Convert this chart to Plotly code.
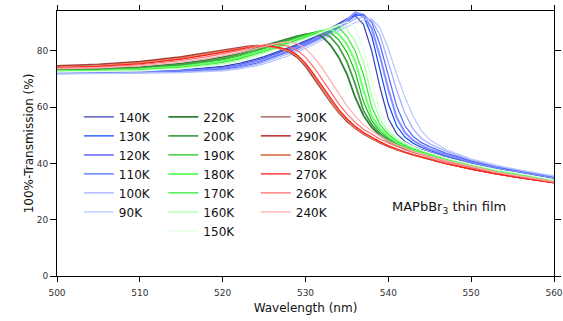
import plotly.graph_objects as go

# ---------------- data ----------------
wavelength = [500, 505, 510, 515, 518, 520, 522, 523, 524, 525, 526, 527, 528, 529, 530,
              531, 532, 533, 534, 535, 536, 537, 538, 539, 540, 541, 542, 543, 544, 545,
              547, 550, 553, 556, 560]

t140 = [72.3, 72.4, 72.7, 73.3, 73.9, 74.5, 75.6,
        76.3, 77.1, 78.0, 79.0, 80.1, 81.2, 82.4, 83.6, 84.9, 86.4,
        88.0, 89.8, 91.4, 92.5, 89.5, 80.0, 67.0, 56.0, 50.6, 47.8,
        46.1, 44.9, 44.0, 42.3, 40.0, 38.1, 36.6, 34.6]
t130 = [72.2, 72.3, 72.5, 73.1, 73.6, 74.1, 75.1,
        75.8, 76.6, 77.5, 78.5, 79.6, 80.7, 81.9, 83.1, 84.4, 85.9,
        87.5, 89.2, 91.1, 93.0, 92.4, 85.3, 73.2, 61.2, 53.4, 49.4,
        47.2, 45.7, 44.6, 42.7, 40.3, 38.3, 36.8, 34.8]
t120 = [72.1, 72.2, 72.4, 72.9, 73.4, 73.8, 74.7,
        75.4, 76.1, 77.0, 78.0, 79.1, 80.2, 81.4, 82.6, 84.0, 85.5,
        87.1, 88.9, 91.0, 93.7, 92.8, 88.0, 78.0, 66.4, 56.4, 51.0,
        48.2, 46.4, 45.1, 43.0, 40.6, 38.6, 37.0, 35.0]
t110 = [72.0, 72.1, 72.3, 72.7, 73.1, 73.5, 74.3,
        74.9, 75.6, 76.5, 77.5, 78.6, 79.7, 80.9, 82.1, 83.5, 85.0,
        86.6, 88.4, 90.4, 92.4, 93.0, 90.2, 82.2, 71.0, 60.4, 53.4,
        49.6, 47.4, 46.0, 43.6, 40.9, 38.8, 37.2, 35.2]
t100 = [71.9, 72.0, 72.2, 72.5, 72.9, 73.2, 73.9,
        74.5, 75.2, 76.0, 77.0, 78.0, 79.1, 80.3, 81.6, 83.0, 84.5,
        86.1, 87.9, 89.8, 91.4, 92.1, 91.0, 85.6, 76.2, 66.2, 57.8,
        52.2, 48.9, 47.0, 44.3, 41.3, 39.1, 37.4, 35.4]
t90 = [71.8, 71.9, 72.0, 72.3, 72.6, 72.9, 73.6,
       74.1, 74.7, 75.4, 76.3, 77.3, 78.4, 79.6, 80.9, 82.3, 83.8,
       85.4, 87.1, 88.7, 90.1, 91.0, 91.4, 88.2, 80.8, 71.8, 63.6,
       56.8, 51.6, 48.4, 44.9, 41.6, 39.4, 37.6, 35.6]

t220 = [73.4, 73.6, 74.2, 75.5, 76.8, 77.8, 79.2,
        80.0, 80.9, 81.8, 82.7, 83.6, 84.5, 85.3, 85.9, 86.2, 85.1,
        82.2, 77.8, 71.8, 63.5, 57.0, 52.8, 49.9, 47.9, 46.4, 45.2,
        44.2, 43.3, 42.6, 41.0, 39.0, 37.2, 35.7, 33.8]
t200 = [73.2, 73.4, 73.9, 75.1, 76.3, 77.3, 78.7,
        79.5, 80.4, 81.3, 82.2, 83.2, 84.1, 85.0, 85.8, 86.5, 86.6,
        85.0, 81.6, 76.2, 68.2, 58.8, 53.8, 50.6, 48.4, 46.8, 45.5,
        44.4, 43.5, 42.8, 41.2, 39.1, 37.3, 35.8, 33.9]
t190 = [73.0, 73.2, 73.7, 74.8, 75.9, 76.8, 78.2,
        79.0, 79.9, 80.8, 81.8, 82.8, 83.8, 84.7, 85.6, 86.5, 87.3,
        86.6, 84.0, 79.6, 72.6, 62.0, 55.2, 51.4, 49.0, 47.2, 45.8,
        44.7, 43.7, 42.9, 41.3, 39.2, 37.4, 35.9, 34.0]
t180 = [72.9, 73.0, 73.5, 74.5, 75.5, 76.3, 77.7,
        78.5, 79.4, 80.3, 81.3, 82.3, 83.3, 84.3, 85.2, 86.1, 87.1,
        87.8, 86.0, 82.4, 76.4, 66.0, 56.8, 52.4, 49.6, 47.6, 46.1,
        44.9, 43.9, 43.1, 41.4, 39.3, 37.5, 36.0, 34.1]
t170 = [72.7, 72.8, 73.2, 74.2, 75.1, 75.9, 77.2,
        78.0, 78.9, 79.8, 80.8, 81.8, 82.8, 83.8, 84.8, 85.8, 86.9,
        88.0, 88.4, 85.2, 80.0, 71.6, 60.0, 53.8, 50.4, 48.1, 46.5,
        45.2, 44.2, 43.3, 41.6, 39.4, 37.6, 36.1, 34.1]
t160 = [72.6, 72.7, 73.0, 73.9, 74.7, 75.4, 76.7,
        77.5, 78.4, 79.3, 80.3, 81.3, 82.4, 83.4, 84.5, 85.6, 86.8,
        88.1, 89.3, 87.8, 83.4, 76.2, 64.0, 55.6, 51.4, 48.8, 47.0,
        45.6, 44.5, 43.6, 41.8, 39.6, 37.7, 36.2, 34.2]
t150 = [72.5, 72.6, 72.9, 73.6, 74.4, 75.0, 76.2,
        77.0, 77.9, 78.8, 79.8, 80.8, 81.9, 83.0, 84.1, 85.3, 86.5,
        87.8, 89.1, 90.3, 88.4, 80.8, 69.4, 58.2, 52.8, 49.6, 47.5,
        46.0, 44.8, 43.9, 42.0, 39.8, 37.9, 36.4, 34.3]

t300 = [74.8, 75.3, 76.3, 78.0, 79.4, 80.4, 81.3,
        81.7, 82.0, 81.9, 81.4, 80.7, 79.6, 77.6, 74.4, 70.4, 66.0,
        61.8, 58.0, 54.9, 52.4, 50.4, 48.7, 47.3, 46.0, 44.9, 43.9,
        43.0, 42.2, 41.4, 39.9, 38.0, 36.3, 34.9, 33.2]
t290 = [74.5, 75.0, 76.0, 77.7, 79.1, 80.1, 81.1,
        81.6, 81.9, 81.9, 81.5, 80.8, 79.8, 77.9, 74.8, 70.8, 66.4,
        62.2, 58.3, 55.1, 52.6, 50.5, 48.8, 47.3, 46.0, 44.9, 43.9,
        43.0, 42.2, 41.4, 39.9, 38.0, 36.3, 34.9, 33.2]
t280 = [74.2, 74.7, 75.7, 77.4, 78.8, 79.8, 80.9,
        81.4, 81.8, 81.8, 81.5, 80.9, 80.0, 78.2, 75.2, 71.2, 66.8,
        62.5, 58.6, 55.4, 52.8, 50.7, 49.0, 47.5, 46.2, 45.0, 44.0,
        43.1, 42.3, 41.5, 40.0, 38.1, 36.4, 35.0, 33.3]
t270 = [74.0, 74.5, 75.4, 77.1, 78.5, 79.5, 80.6,
        81.2, 81.6, 81.8, 81.6, 81.1, 80.3, 78.6, 75.7, 71.8, 67.5,
        63.1, 59.2, 55.9, 53.2, 51.0, 49.2, 47.7, 46.3, 45.1, 44.0,
        43.1, 42.3, 41.5, 39.9, 38.0, 36.3, 34.9, 33.1]
t260 = [73.9, 74.3, 75.1, 76.6, 77.9, 78.9, 80.1,
        80.8, 81.5, 82.2, 82.5, 82.3, 81.6, 80.2, 77.8, 74.2, 70.0,
        65.6, 61.3, 57.6, 54.6, 52.2, 50.3, 48.7, 47.3, 46.0, 44.9,
        43.9, 43.0, 42.2, 40.6, 38.5, 36.7, 35.2, 33.4]
t240 = [73.7, 74.0, 74.7, 76.0, 77.2, 78.2, 79.4,
        80.1, 80.8, 81.6, 82.4, 83.0, 83.2, 82.6, 80.8, 77.8, 74.0,
        69.6, 64.9, 60.5, 56.8, 53.8, 51.5, 49.6, 48.0, 46.6, 45.4,
        44.3, 43.4, 42.5, 41.0, 38.9, 37.0, 35.5, 33.6]

legend_col1 = ["140K", "130K", "120K", "110K", "100K", "90K"]
legend_col2 = ["220K", "200K", "190K", "180K", "170K", "160K", "150K"]
legend_col3 = ["300K", "290K", "280K", "270K", "260K", "240K"]

values = {
    "140K": t140, "130K": t130, "120K": t120, "110K": t110, "100K": t100, "90K": t90,
    "220K": t220, "200K": t200, "190K": t190, "180K": t180, "170K": t170, "160K": t160,
    "150K": t150,
    "300K": t300, "290K": t290, "280K": t280, "270K": t270, "260K": t260, "240K": t240,
}

# ---------------- style ----------------
colors = {
    "140K": "#3b3fb0", "130K": "#0a4dff", "120K": "#8c8cff", "110K": "#4a6bff",
    "100K": "#a4a8ff", "90K": "#b4c6ff",
    "220K": "#2f7f34", "200K": "#4aa04e", "190K": "#1fbf1f", "180K": "#6cff6c",
    "170K": "#2eea2e", "160K": "#a6ffa6", "150K": "#ddffdd",
    "300K": "#a04e48", "290K": "#b00000", "280K": "#e08a68", "270K": "#ff1a1a",
    "260K": "#ff6a6a", "240K": "#ffadad",
}
widths = {"120K": 2.0, "180K": 2.0, "220K": 1.8, "200K": 1.8, "280K": 2.0}

FONT = "DejaVu Sans"

fig = go.Figure()
for legend_name, names in (("legend", legend_col1), ("legend2", legend_col2), ("legend3", legend_col3)):
    for name in names:
        fig.add_trace(go.Scatter(
            x=wavelength, y=values[name], mode="lines", name=name,
            line=dict(color=colors[name], width=widths.get(name, 1.2)),
            legend=legend_name, legendgroup=name,
        ))

legend_base = dict(
    bgcolor="rgba(0,0,0,0)", borderwidth=0, orientation="v",
    xanchor="left", yanchor="top", itemwidth=30, tracegroupgap=0,
    traceorder="normal", font=dict(family=FONT, size=12, color="#111111"),
)

fig.update_layout(
    width=563, height=321,
    margin=dict(l=57, r=9, t=11, b=45, autoexpand=False),
    paper_bgcolor="white", plot_bgcolor="white",
    font=dict(family=FONT, color="#222222"),
    showlegend=True,
    legend=dict(x=0.044, y=0.655, **legend_base),
    legend2=dict(x=0.214, y=0.655, **legend_base),
    legend3=dict(x=0.400, y=0.655, **legend_base),
    xaxis=dict(
        range=[500, 560], tickmode="array", tickvals=[500, 510, 520, 530, 540, 550, 560],
        ticks="outside", ticklen=5, tickwidth=1, tickcolor="black",
        showline=True, linecolor="black", linewidth=1, mirror="ticks",
        showgrid=False, zeroline=False, automargin=False,
        tickfont=dict(family=FONT, size=9, color="#333333"), ticklabelstandoff=3,
        title=dict(text="Wavelength (nm)", font=dict(family=FONT, size=12, color="#111111"), standoff=6),
    ),
    yaxis=dict(
        range=[0, 94.2], tickmode="array", tickvals=[0, 20, 40, 60, 80],
        ticks="outside", ticklen=6, tickwidth=1, tickcolor="black",
        showline=True, linecolor="black", linewidth=1, mirror="ticks",
        showgrid=False, zeroline=False, automargin=False,
        tickfont=dict(family=FONT, size=9, color="#333333"),
        title=dict(text="100%-Transmission (%)", font=dict(family=FONT, size=12, color="#111111"), standoff=0),
    ),
    annotations=[dict(
        text="MAPbBr<sub>3</sub> thin film", x=0.789, y=0.26, xref="paper", yref="paper",
        xanchor="center", yanchor="middle",
        showarrow=False, font=dict(family=FONT, size=13, color="#111111"),
    )],
)

fig.write_html("out.html", config={"displayModeBar": False},
               post_script="document.body.style.margin='0';")
